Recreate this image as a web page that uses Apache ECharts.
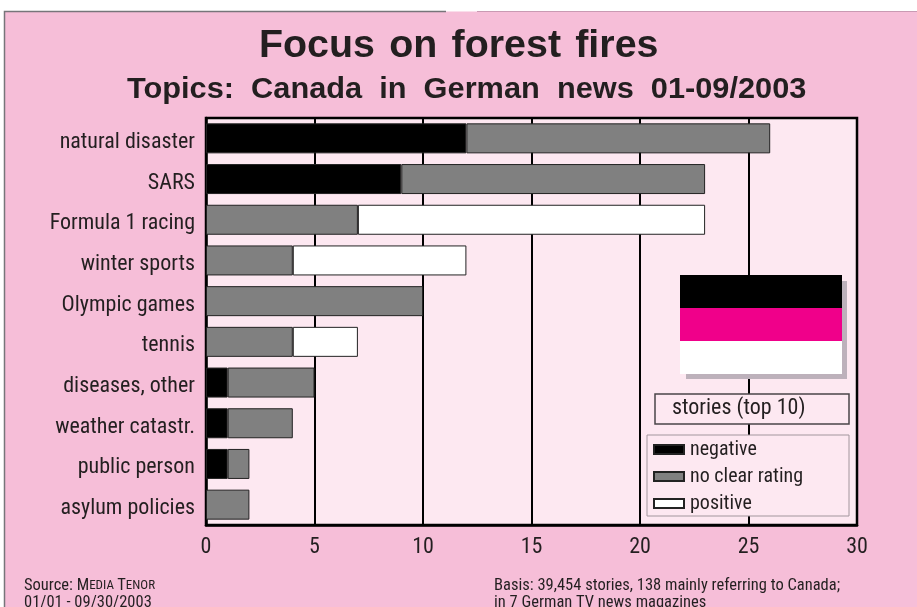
<!DOCTYPE html>
<html>
<head>
<meta charset="utf-8">
<style>html,body{margin:0;padding:0;background:#fff}#c{width:917px;height:607px}</style>
<script src="https://cdn.jsdelivr.net/npm/echarts@6/dist/echarts.min.js"></script>
</head>
<body>
<div id="c"></div>
<script>
const categories = ['natural disaster','SARS','Formula 1 racing','winter sports','Olympic games','tennis','diseases, other','weather catastr.','public person','asylum policies'];
const negative = [12,9,null,null,null,null,1,1,1,null];
const noClearRating = [14,14,7,4,10,4,4,3,1,2];
const positive = [null,null,16,8,null,3,null,null,null,null];

const NARROW = '"Roboto Condensed"';
const INK = '#231f20';
const chart = echarts.init(document.getElementById('c'));

function stacked(name, data, fill) {
  return {
    name, type: 'bar', stack: 'stories', data, barWidth: 30, z: 3,
    itemStyle: { color: fill, borderColor: '#222', borderWidth: 1 }
  };
}

chart.setOption({
  animation: false,
  backgroundColor: '#fff',
  grid: { left: 206, top: 118, width: 651, height: 407, show: true, backgroundColor: '#fde8f1', borderColor: '#000', borderWidth: 2.5 },
  xAxis: {
    type: 'value', min: 0, max: 30, interval: 5,
    axisLine: { show: true, onZero: false, lineStyle: { color: '#000', width: 2.5 } },
    axisTick: { show: false },
    axisLabel: { fontFamily: NARROW, fontSize: 22, color: INK, margin: 11 },
    splitLine: { show: true, lineStyle: { color: '#000', width: 2 } }
  },
  yAxis: {
    type: 'category', data: categories, inverse: true,
    axisLine: { show: true, lineStyle: { color: '#000', width: 2.5 } },
    axisTick: { show: false },
    axisLabel: { fontFamily: NARROW, fontSize: 22, color: INK, margin: 11, verticalAlign: 'top', lineHeight: 8 }
  },
  legend: {
    show: true, orient: 'vertical', left: 653, top: 439,
    padding: 0, itemGap: 6, itemWidth: 30, itemHeight: 9, icon: 'rect',
    data: ['negative','no clear rating','positive'],
    textStyle: { fontFamily: NARROW, fontSize: 20, color: INK, padding: [0,0,0,1], lineHeight: 21 },
    selectedMode: false, z: 20
  },
  series: [
    stacked('negative', negative, '#000'),
    stacked('no clear rating', noClearRating, '#808080'),
    stacked('positive', positive, '#fff')
  ],
  graphic: [
    // page panel with its left and top rule
    { type: 'rect', z: -10, silent: true, shape: { x: 4.5, y: 11.5, width: 930, height: 620 },
      style: { fill: '#f6bed8' } },
    { type: 'polyline', z: -9, silent: true, shape: { points: [[4.5, 620], [4.5, 11.5], [446, 11.5]] },
      style: { fill: null, stroke: '#77757a', lineWidth: 1.5 } },
    { type: 'line', z: -9, silent: true, shape: { x1: 477, y1: 11.5, x2: 917, y2: 11.5 },
      style: { stroke: '#c99ab3', lineWidth: 1 } },
    // headline
    { type: 'text', z: 10, x: 259, y: 27, scaleX: 1.01, style: { text: 'Focus \u200Aon \u200Aforest \u200Afires', fontFamily: '"Liberation Sans"', fontWeight: 'bold', fontSize: 39, fill: INK } },
    { type: 'text', z: 10, x: 127, y: 75, scaleX: 1.06, style: { text: 'Topics:  Canada  in  German  news  01-09/2003', fontFamily: '"Liberation Sans"', fontWeight: 'bold', fontSize: 29, fill: INK } },
    // flag and its shadow
    { type: 'rect', z: 10, silent: true, shape: { x: 686, y: 281, width: 161, height: 98 }, style: { fill: '#bdb1bb' } },
    { type: 'rect', z: 11, silent: true, shape: { x: 680, y: 275, width: 162, height: 33 }, style: { fill: '#000' } },
    { type: 'rect', z: 11, silent: true, shape: { x: 680, y: 308, width: 162, height: 33 }, style: { fill: '#f0008a' } },
    { type: 'rect', z: 11, silent: true, shape: { x: 680, y: 341, width: 162, height: 33 }, style: { fill: '#fff' } },
    // unit box
    { type: 'rect', z: 11, silent: true, shape: { x: 655, y: 394, width: 194, height: 30 }, style: { fill: '#fde8f1', stroke: '#4a4448', lineWidth: 1.5 } },
    { type: 'text', z: 12, x: 672, y: 397, style: { text: 'stories (top 10)', fontFamily: NARROW, fontSize: 22, fill: INK } },
    // legend frame
    { type: 'rect', z: 11, silent: true, shape: { x: 647, y: 435, width: 202, height: 81 }, style: { fill: '#fde8f1', stroke: '#a2969d', lineWidth: 1 } },
    // footnotes
    { type: 'text', z: 10, x: 24, y: 577, style: { text: '{a|Source: M}{b|EDIA} {a|T}{b|ENOR}\n{a|01/01 - 09/30/2003}', rich: {
        a: { fontFamily: NARROW, fontSize: 16.5, fill: INK, lineHeight: 17 },
        b: { fontFamily: NARROW, fontSize: 13, fill: INK, lineHeight: 17 } } } },
    { type: 'text', z: 10, x: 494, y: 577, style: { text: 'Basis: 39,454 stories, 138 mainly referring to Canada;\nin 7 German TV news magazines', fontFamily: NARROW, fontSize: 16.5, lineHeight: 17, fill: INK } }
  ]
});
</script>
</body>
</html>
